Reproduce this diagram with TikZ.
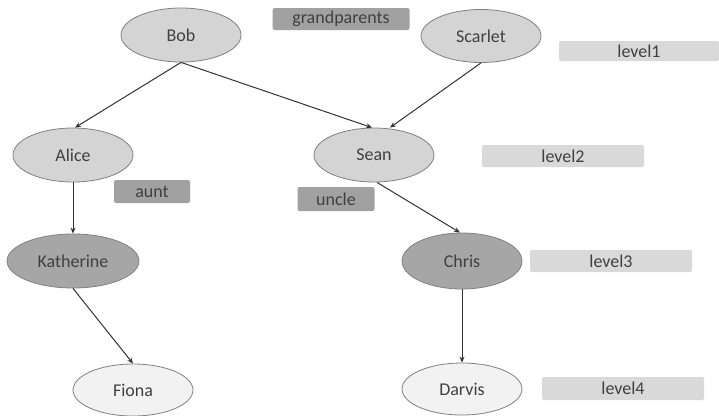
\documentclass[tikz,border=0pt]{standalone}
\usepackage{fontspec}
\setmainfont{Carlito}
\usetikzlibrary{shapes.geometric,arrows.meta}
\tikzset{
	person/.style={ellipse, draw=black!50, line width=0.8bp, minimum width=120bp, minimum height=54bp, inner sep=0pt, text=black!75, font=\fontsize{18bp}{20bp}\selectfont},
	elder/.style={person, fill=black!17},
	middle/.style={person, fill=black!35},
	young/.style={person, fill=black!5},
	relbox/.style={rectangle, rounded corners=2bp, fill=black!37, inner sep=0pt, text=black!75, font=\fontsize{18bp}{20bp}\selectfont},
	levelbox/.style={rectangle, rounded corners=1.5bp, fill=black!15, inner sep=0pt, minimum width=162bp, minimum height=22bp, text=black!75, font=\fontsize{18bp}{20bp}\selectfont},
	link/.style={line width=1bp, draw=black!80, -{Stealth[length=6bp, width=5bp]}}
}

\begin{document}
\begin{tikzpicture}[x=1bp, y=-1bp]
		%%%%% START %%%%%
		\useasboundingbox (0, 0) rectangle (719, 415);
		
		\node[elder] (bob) at (181, 35) {Bob};
		\node[elder, minimum height=53bp] (scarlet) at (481, 36) {Scarlet};
		\node[elder] (alice) at (73, 155) {Alice};
		\node[elder] (sean) at (374, 155) {Sean};
		
		\node[middle, minimum width=132bp] (katherine) at (73, 261) {Katherine};
		\node[middle, minimum height=56bp] (chris) at (462, 261) {Chris};
		
		\node[young, minimum height=52bp] (fiona) at (133, 390) {Fiona};
		\node[young, minimum height=52bp] (darvis) at (462, 389) {Darvis};
		
		\node[relbox, minimum width=137bp, minimum height=22bp] (grandparents) at (341, 19) {grandparents};
		\node[relbox, minimum width=76bp, minimum height=23bp] (aunt) at (152, 191.5) {aunt};
		\node[relbox, minimum width=77bp, minimum height=24bp] (uncle) at (336, 199) {uncle};
		
		\node[levelbox, minimum width=160bp, minimum height=20bp] (level1) at (639, 51) {level1};
		\node[levelbox] (level2) at (563, 156) {level2};
		\node[levelbox] (level3) at (611, 261) {level3};
		\node[levelbox, minimum height=23bp] (level4) at (623, 388.5) {level4};
		
		\draw[link] (bob.south) -- ([xshift=2bp]alice.north);
		\draw[link] (bob.south) -- ([xshift=-2bp]sean.north);
		\draw[link] (scarlet.south) -- ([xshift=16bp]sean.north);
		\draw[link] (alice.south) -- (katherine.north);
		\draw[link] ([xshift=3bp]sean.south) -- ([xshift=-2bp]chris.north);
		\draw[link] (katherine.south) -- (fiona.north);
		\draw[link] (chris.south) -- (darvis.north);
		
		%%%%% END %%%%%
	\end{tikzpicture}
\end{document}
